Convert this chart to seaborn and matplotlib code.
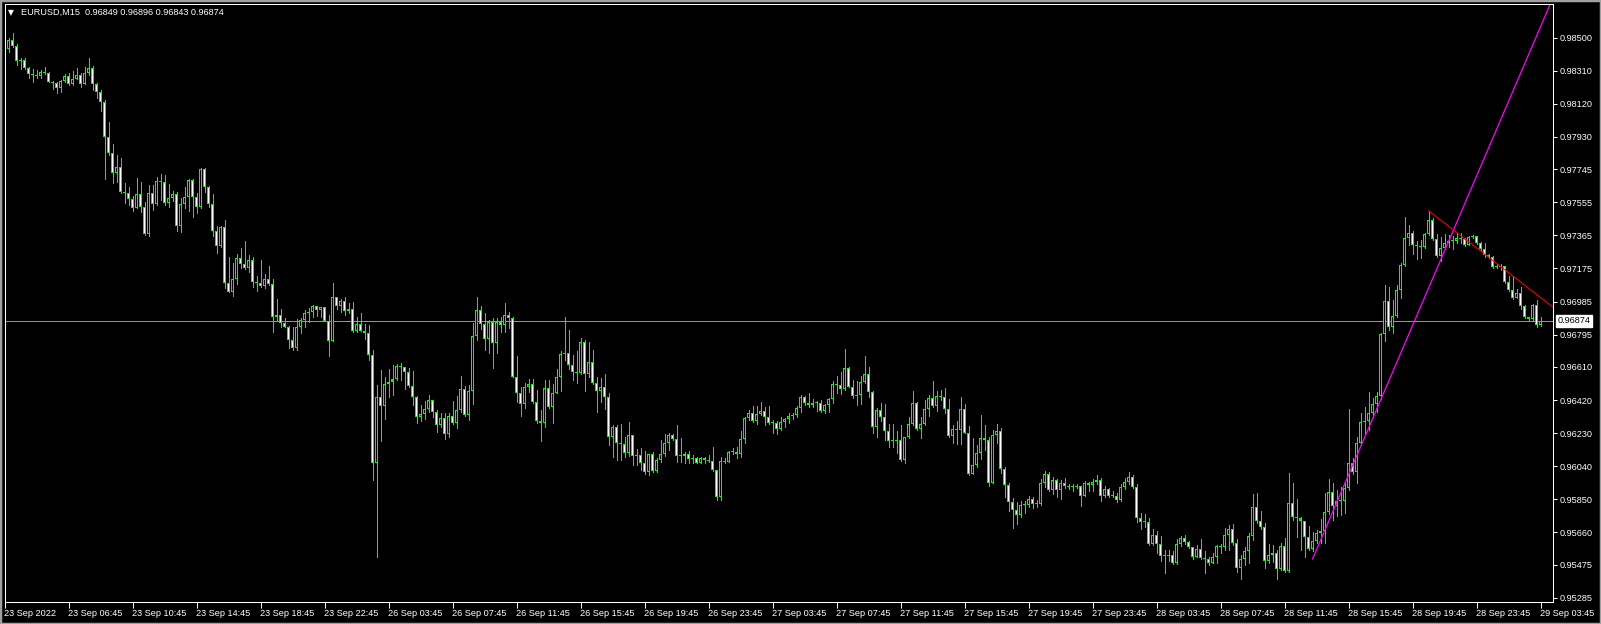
import numpy as np
import pandas as pd
import matplotlib
matplotlib.use("Agg")
import matplotlib.pyplot as plt
import seaborn as sns
from matplotlib.patches import Rectangle

# EURUSD M15, 23 Sep 2022 02:45 -> 29 Sep 03:45, prices in points (1e-5)
first_open = 98404

close_pts = [
    98434, 98486, 98453, 98367, 98373, 98323, 98293, 98285, 98281, 98304,
    98298, 98247, 98237, 98209, 98254, 98281, 98232, 98262, 98285, 98235,
    98295, 98323, 98232, 98190, 98128, 97931, 97839, 97725, 97757, 97616,
    97606, 97574, 97524, 97600, 97530, 97373, 97606, 97543, 97677, 97673,
    97553, 97577, 97602, 97420, 97543, 97585, 97683, 97587, 97530, 97746,
    97644, 97543, 97392, 97306, 97415, 97089, 97042, 97112, 97235, 97199,
    97180, 97222, 97099, 97093, 97074, 97114, 97084, 96898, 96908, 96864,
    96841, 96764, 96718, 96841, 96877, 96919, 96923,
    96960, 96937, 96952, 96876, 96761, 97010, 96962, 96987, 96933, 96944,
    96818, 96856, 96818, 96807, 96679, 96057, 96440, 96388, 96512, 96526,
    96539, 96615, 96608, 96581, 96503, 96440, 96325, 96340, 96369, 96420,
    96353, 96277, 96317, 96225, 96328, 96290, 96363, 96482, 96336, 96472,
    96788, 96937, 96855, 96772, 96870, 96749, 96870, 96849, 96908, 96889,
    96554, 96459, 96395, 96497, 96512, 96407, 96302, 96290, 96487, 96382,
    96459, 96554, 96684, 96692, 96619, 96583, 96573, 96753, 96568, 96638,
    96516, 96472, 96493, 96436, 96210, 96267, 96172,
    96166, 96118, 96217, 96101, 96103, 96057, 96009, 96108, 96015, 96076,
    96108, 96172, 96217, 96195, 96101, 96101, 96110, 96080, 96086, 96061,
    96087, 96076, 96072, 96019, 95864, 96070, 96066, 96122, 96124, 96110,
    96196, 96315, 96344, 96302, 96338, 96357, 96321, 96290, 96290, 96254,
    96292, 96309, 96328, 96332, 96376, 96436, 96405, 96392, 96401, 96401,
    96357, 96390, 96426, 96512, 96508, 96483, 96602, 96497, 96445, 96447,
    96522, 96568, 96468, 96263, 96363, 96321, 96244, 96187, 96187, 96191,
    96076, 96206, 96283, 96401, 96254, 96281, 96367,
    96429, 96387, 96443, 96435, 96366, 96215, 96252, 96248, 96366, 96232,
    95995, 96049, 96114, 96200, 96190, 95945, 96219, 96242, 96024, 95932,
    95836, 95789, 95760, 95817, 95819, 95852, 95821, 95823, 95942, 95995,
    95903, 95961, 95903, 95942, 95926, 95919, 95922, 95926, 95869, 95942,
    95932, 95949, 95959, 95871, 95909, 95869, 95869, 95846, 95919, 95951,
    95980, 95922, 95741, 95722, 95718, 95591, 95645, 95591, 95527, 95527,
    95528, 95482, 95593, 95626, 95607, 95574, 95521, 95565, 95511, 95509,
    95482, 95521, 95582, 95578, 95645, 95678, 95601,
    95454, 95505, 95553, 95639, 95808, 95727, 95693, 95498, 95530, 95540,
    95448, 95582, 95440, 95827, 95750, 95741, 95727, 95636, 95563, 95611,
    95655, 95666, 95779, 95894, 95811, 95842, 95842, 95913, 96056, 96009,
    96171, 96295, 96301, 96343, 96395, 96443, 96797, 96988, 96841, 96902,
    97051, 97195, 97348, 97376, 97309, 97304, 97300, 97372, 97453, 97344,
    97248, 97290, 97319, 97334, 97330, 97348, 97346, 97309, 97357, 97361,
    97319, 97286, 97252, 97242, 97181, 97185, 97191, 97095, 97051, 97003,
    97036, 96959, 96894, 96883, 96965, 96849, 96874,
]

high_pts = [
    98486, 98496, 98524, 98461, 98386, 98381, 98333, 98318, 98312, 98312,
    98331, 98300, 98254, 98247, 98256, 98289, 98295, 98308, 98327, 98295,
    98331, 98386, 98337, 98237, 98197, 98142, 98017, 97889, 97826, 97807,
    97663, 97644, 97593, 97692, 97669, 97558, 97654, 97654, 97702, 97717,
    97711, 97658, 97620, 97616, 97577, 97644, 97688, 97688, 97606, 97753,
    97753, 97650, 97600, 97418, 97418, 97453, 97242, 97208, 97258, 97290,
    97332, 97252, 97242, 97134, 97223, 97143, 97191, 97114, 97000, 96942,
    96889, 96845, 96841, 96885, 96889, 96936, 96946,
    96966, 96962, 96956, 96956, 96908, 97090, 97013, 97002, 97010, 96979,
    96981, 96895, 96920, 96856, 96851, 96707, 96506, 96593, 96554, 96596,
    96621, 96627, 96631, 96608, 96602, 96589, 96443, 96392, 96416, 96449,
    96420, 96363, 96344, 96344, 96344, 96415, 96443, 96558, 96501, 96506,
    96864, 97010, 96960, 96922, 96879, 96889, 96893, 96899, 96979, 96925,
    96899, 96673, 96497, 96520, 96543, 96541, 96478, 96363, 96535, 96535,
    96512, 96598, 96703, 96897, 96822, 96679, 96703, 96776, 96765, 96753,
    96707, 96550, 96545, 96570, 96459, 96277, 96275,
    96283, 96206, 96294, 96214, 96139, 96143, 96128, 96110, 96122, 96085,
    96191, 96223, 96233, 96225, 96277, 96204, 96120, 96128, 96107, 96091,
    96095, 96095, 96105, 96151, 96019, 96095, 96089, 96129, 96147, 96152,
    96242, 96321, 96363, 96386, 96386, 96409, 96382, 96386, 96306, 96302,
    96321, 96315, 96344, 96344, 96386, 96449, 96443, 96459, 96424, 96416,
    96420, 96397, 96432, 96531, 96558, 96583, 96713, 96612, 96535, 96531,
    96558, 96673, 96612, 96472, 96376, 96405, 96397, 96283, 96283, 96242,
    96277, 96210, 96321, 96472, 96411, 96321, 96420,
    96449, 96529, 96473, 96477, 96487, 96424, 96276, 96299, 96435, 96397,
    96271, 96200, 96162, 96334, 96276, 96209, 96248, 96282, 96257, 96033,
    95942, 95859, 95833, 95840, 95840, 95869, 95865, 95846, 95966, 96012,
    96009, 95976, 95965, 95961, 95974, 95938, 95938, 95938, 95926, 95955,
    95951, 95965, 95989, 95970, 95926, 95917, 95898, 95888, 95936, 95970,
    96005, 95989, 95936, 95769, 95764, 95745, 95678, 95668, 95639, 95559,
    95559, 95553, 95620, 95641, 95645, 95611, 95578, 95588, 95622, 95553,
    95521, 95540, 95588, 95593, 95683, 95702, 95708,
    95620, 95530, 95578, 95655, 95880, 95884, 95783, 95712, 95593, 95588,
    95559, 95597, 95626, 95999, 95942, 95850, 95746, 95722, 95697, 95664,
    95674, 95737, 95884, 95965, 95942, 95903, 95922, 95942, 96366, 96089,
    96209, 96343, 96382, 96468, 96429, 96468, 96802, 97080, 97070, 96994,
    97080, 97204, 97472, 97424, 97392, 97334, 97338, 97380, 97506, 97462,
    97372, 97357, 97371, 97367, 97361, 97380, 97376, 97348, 97361, 97369,
    97361, 97328, 97319, 97258, 97246, 97200, 97200, 97181, 97131, 97131,
    97055, 97070, 96965, 96898, 96971, 96994, 96896,
]

low_pts = [
    98400, 98415, 98448, 98343, 98320, 98320, 98270, 98247, 98266, 98270,
    98289, 98243, 98207, 98184, 98190, 98247, 98228, 98228, 98262, 98218,
    98235, 98285, 98199, 98151, 98080, 97688, 97826, 97667, 97673, 97606,
    97549, 97539, 97505, 97520, 97501, 97367, 97363, 97510, 97539, 97568,
    97539, 97530, 97564, 97392, 97386, 97520, 97505, 97472, 97495, 97524,
    97616, 97530, 97363, 97266, 97300, 97061, 97038, 97019, 97086, 97176,
    97172, 97157, 97070, 97047, 97067, 97061, 97080, 96808, 96879, 96841,
    96837, 96720, 96706, 96707, 96803, 96841, 96866,
    96895, 96904, 96899, 96872, 96673, 96887, 96944, 96923, 96906, 96918,
    96812, 96812, 96814, 96772, 96650, 95961, 95519, 96185, 96311, 96436,
    96449, 96535, 96535, 96485, 96497, 96392, 96290, 96300, 96309, 96353,
    96325, 96239, 96267, 96197, 96210, 96283, 96262, 96353, 96328, 96306,
    96397, 96765, 96828, 96707, 96692, 96606, 96692, 96812, 96812, 96832,
    96550, 96411, 96330, 96372, 96468, 96401, 96286, 96187, 96267, 96372,
    96290, 96462, 96474, 96650, 96596, 96535, 96520, 96570, 96474, 96554,
    96512, 96353, 96411, 96367, 96162, 96095, 96076,
    96076, 96095, 96099, 96047, 96047, 96019, 95996, 95990, 96009, 96009,
    96066, 96099, 96133, 96191, 96066, 96066, 96061, 96061, 96057, 96057,
    96057, 96061, 96064, 96015, 95846, 95846, 96057, 96064, 96108, 96089,
    96095, 96172, 96305, 96296, 96283, 96334, 96277, 96283, 96233, 96225,
    96248, 96267, 96286, 96313, 96321, 96353, 96392, 96382, 96382, 96357,
    96353, 96348, 96353, 96401, 96462, 96455, 96478, 96493, 96430, 96392,
    96397, 96516, 96439, 96229, 96210, 96302, 96191, 96152, 96152, 96118,
    96072, 96061, 96200, 96277, 96248, 96200, 96277,
    96328, 96382, 96359, 96420, 96347, 96206, 96175, 96167, 96167, 96229,
    95990, 95995, 96037, 96079, 96133, 95926, 95951, 96175, 96003, 95865,
    95785, 95687, 95708, 95746, 95773, 95804, 95802, 95804, 95817, 95919,
    95900, 95880, 95865, 95852, 95913, 95907, 95900, 95913, 95811, 95869,
    95900, 95900, 95938, 95840, 95865, 95861, 95861, 95836, 95840, 95909,
    95938, 95913, 95722, 95678, 95689, 95588, 95588, 95544, 95498, 95425,
    95498, 95479, 95479, 95584, 95593, 95569, 95507, 95521, 95507, 95425,
    95473, 95482, 95486, 95540, 95559, 95559, 95588,
    95435, 95391, 95473, 95482, 95616, 95712, 95678, 95454, 95482, 95492,
    95391, 95444, 95435, 95435, 95731, 95636, 95559, 95517, 95559, 95555,
    95597, 95601, 95601, 95766, 95731, 95754, 95760, 95769, 95903, 95995,
    95942, 96162, 96228, 96248, 96324, 96353, 96424, 96758, 96822, 96806,
    96898, 97007, 97189, 97309, 97256, 97231, 97233, 97290, 97367, 97338,
    97242, 97219, 97284, 97300, 97284, 97323, 97323, 97304, 97328, 97348,
    97313, 97281, 97242, 97233, 97175, 97175, 97166, 97093, 97047, 96999,
    97003, 96940, 96888, 96873, 96875, 96837, 96843,
]

date_labels = [
    "23 Sep 2022", "23 Sep 06:45", "23 Sep 10:45", "23 Sep 14:45", "23 Sep 18:45",
    "23 Sep 22:45", "26 Sep 03:45", "26 Sep 07:45", "26 Sep 11:45", "26 Sep 15:45",
    "26 Sep 19:45", "26 Sep 23:45", "27 Sep 03:45", "27 Sep 07:45", "27 Sep 11:45",
    "27 Sep 15:45", "27 Sep 19:45", "27 Sep 23:45", "28 Sep 03:45", "28 Sep 07:45",
    "28 Sep 11:45", "28 Sep 15:45", "28 Sep 19:45", "28 Sep 23:45", "29 Sep 03:45",
]
price_ticks = [0.98500, 0.98310, 0.98120, 0.97930, 0.97745, 0.97555, 0.97365, 0.97175,
               0.96985, 0.96795, 0.96610, 0.96420, 0.96230, 0.96040, 0.95850, 0.95660,
               0.95475, 0.95285]
last_price = 0.96874
header = "EURUSD,M15  0.96849 0.96896 0.96843 0.96874"

# trend lines drawn by hand on the chart: anchor bars and prices
magenta_bars = [327, 357]
magenta_prices = [0.95507, 0.97115]
red_bars = [356, 380]
red_prices = [0.97507, 0.97080]

# build candle table (an M15 FX bar opens at the previous close)
closes = np.array(close_pts) / 1e5
opens = np.array([first_open] + close_pts[:-1]) / 1e5
highs = np.maximum(np.array(high_pts) / 1e5, np.maximum(opens, closes))
lows = np.minimum(np.array(low_pts) / 1e5, np.minimum(opens, closes))
df = pd.DataFrame({"bar": np.arange(len(closes)), "open": opens, "high": highs,
                   "low": lows, "close": closes})
df["up"] = df["close"] >= df["open"]

sns.set_style("dark", {"axes.facecolor": "black", "figure.facecolor": "black"})
plt.rcParams["font.family"] = ["Liberation Sans", "DejaVu Sans"]

W, H = 1601, 624
fig = plt.figure(figsize=(W / 100, H / 100), dpi=100)
ax = fig.add_axes([4.5 / W, 1 - 602 / H, (1553 - 4.5) / W, (602 - 3.5) / H])
ax.set_facecolor("black")

ylo, yhi = 0.952605, 0.98696
px = (yhi - ylo) / (602 - 3.5)   # price per screen pixel

green = "#00ff00"
ax.vlines(df["bar"], df["low"], df["high"], color=green, lw=0.72, zorder=2, antialiased=False)

# candle bodies: green 3px block, 1px black (bull) / white (bear) core
body_low = np.minimum(df["open"], df["close"])
body_h = (df["close"] - df["open"]).abs()
outer_h = np.maximum(body_h, px)
ax.bar(df["bar"], outer_h, bottom=body_low, width=0.85, color=green,
       linewidth=0, zorder=3, antialiased=False)
inner = body_h > 2.5 * px
ax.bar(df["bar"][inner], body_h[inner] - 2 * px, bottom=body_low[inner] + px, width=0.3,
       color=np.where(df["up"][inner], "black", "white"), linewidth=0, zorder=4,
       antialiased=False)

# current price line
ax.axhline(last_price, color="#8c96a0", lw=0.72, zorder=1)

# trend lines (magenta one is a ray to the right)
slope = (magenta_prices[1] - magenta_prices[0]) / (magenta_bars[1] - magenta_bars[0])
mx = [magenta_bars[0], 400]
my = [magenta_prices[0], magenta_prices[0] + slope * (400 - magenta_bars[0])]
sns.lineplot(x=mx, y=my, ax=ax, color="#ff00ff", lw=0.9, zorder=5)
rslope = (red_prices[1] - red_prices[0]) / (red_bars[1] - red_bars[0])
rx = [red_bars[0], 400]
ry = [red_prices[0], red_prices[0] + rslope * (400 - red_bars[0])]
sns.lineplot(x=rx, y=ry, ax=ax, color="#ff0000", lw=0.75, zorder=5)

ax.set_xlim(0, 387.125)
ax.set_ylim(ylo, yhi)
ax.grid(False)
for s in ax.spines.values():
    s.set_color("white")
    s.set_linewidth(0.75)
    s.set_visible(True)
    s.set_zorder(6)

ax.yaxis.tick_right()
ax.set_yticks(price_ticks)
ax.set_yticklabels([f"{p:.5f}" for p in price_ticks])
ax.set_xticks(np.arange(0, len(closes), 16))
ax.set_xticklabels(date_labels, ha="left")
ax.tick_params(axis="y", colors="white", length=3, width=0.75, labelsize=6.6, pad=2,
               direction="out", right=True, left=False)
ax.tick_params(axis="x", colors="white", length=4, width=0.75, labelsize=6.6, pad=1,
               direction="out", bottom=True)
ax.set_xlabel("")
ax.set_ylabel("")

# current price tag on the price scale
ax.text(1.0031, last_price, f"{last_price:.5f}", transform=ax.get_yaxis_transform(),
        color="black", fontsize=6.6, va="center", ha="left", zorder=7,
        bbox=dict(boxstyle="square,pad=0.15", fc="white", ec="white"), clip_on=False)

# header
fig.text(8 / W, 1 - 12.7 / H, "▼", color="white", fontsize=5.5, va="center", ha="left",
         family=["DejaVu Sans"])
fig.text(20.5 / W, 1 - 12.7 / H, header, color="white", fontsize=6.6, va="center", ha="left")

# window frame
fig.patches.append(Rectangle((0, 0), 1, 1, transform=fig.transFigure, fill=False,
                             ec="#a0a0a0", lw=2.5))

fig.savefig("out.png", dpi=100, facecolor="black")
